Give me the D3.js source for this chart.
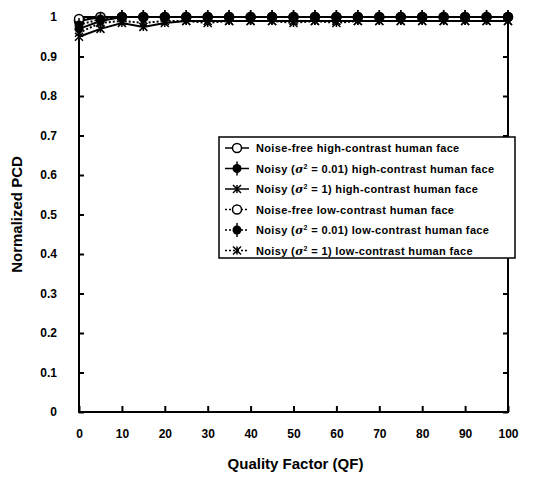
<!DOCTYPE html>
<html lang="en">
<head>
  <meta charset="UTF-8" />
  <title>Normalized PCD vs QF</title>
  <script src="https://cdn.jsdelivr.net/npm/d3@7"></script>
  <style>
    body { margin: 0; background: #fff; }
    text { font-family: "Liberation Sans", Arial, sans-serif; font-weight: bold; fill: #000; }
  </style>
</head>
<body>
<script>
  const width = 552;
  const height = 477;

  // data
  const qf = [0, 5, 10, 15, 20, 25, 30, 35, 40, 45, 50, 55, 60, 65, 70, 75, 80, 85, 90, 95, 100];
  const freeHigh  = [0.99, 1, 1, 1, 1, 1, 1, 1, 1, 1, 1, 1, 1, 1, 1, 1, 1, 1, 1, 1, 1];
  const noisyHigh = [0.97, 0.99, 1, 1, 1, 1, 1, 1, 1, 1, 1, 1, 1, 1, 1, 1, 1, 1, 1, 1, 1];
  const noisy1High = [0.95, 0.97, 0.985, 0.975, 0.985, 0.99, 0.99, 0.99, 0.99, 0.99, 0.99, 0.99, 0.99, 0.99, 0.99, 0.99, 0.99, 0.99, 0.99, 0.99, 0.99];
  const freeLow   = [0.995, 1, 1, 1, 1, 1, 1, 1, 1, 1, 1, 1, 1, 1, 1, 1, 1, 1, 1, 1, 1];
  const noisyLow  = [0.98, 0.995, 1, 1, 1, 1, 1, 1, 1, 1, 1, 1, 1, 1, 1, 1, 1, 1, 1, 1, 1];
  const noisy1Low = [0.96, 0.985, 0.99, 0.985, 0.99, 0.99, 0.985, 0.99, 0.99, 0.99, 0.985, 0.99, 0.985, 0.99, 0.99, 0.99, 0.99, 0.99, 0.99, 0.99, 0.99];

  const xTicks = [0, 10, 20, 30, 40, 50, 60, 70, 80, 90, 100];
  const yTicks = [0, 0.1, 0.2, 0.3, 0.4, 0.5, 0.6, 0.7, 0.8, 0.9, 1];

  const series = [
    { pre: "Noise-free high-contrast human face", values: freeHigh, dash: null, marker: "open" },
    { pre: "Noisy (", sig: "0.01", post: ") high-contrast human face", values: noisyHigh, dash: null, marker: "filled" },
    { pre: "Noisy (", sig: "1", post: ") high-contrast human face", values: noisy1High, dash: null, marker: "star" },
    { pre: "Noise-free low-contrast human face", values: freeLow, dash: "2,2", marker: "open" },
    { pre: "Noisy (", sig: "0.01", post: ") low-contrast human face", values: noisyLow, dash: "2,2", marker: "filled" },
    { pre: "Noisy (", sig: "1", post: ") low-contrast human face", values: noisy1Low, dash: "2,2", marker: "star" }
  ];

  const margin = { left: 79, right: 44, top: 17, bottom: 65 };

  const svg = d3.select("body").append("svg")
    .attr("width", width)
    .attr("height", height);

  const x = d3.scaleLinear().domain([0, 100]).range([margin.left, width - margin.right]);
  const y = d3.scaleLinear().domain([0, 1]).range([height - margin.bottom, margin.top]);

  // frame
  svg.append("rect")
    .attr("x", x(0)).attr("y", y(1))
    .attr("width", x(100) - x(0)).attr("height", y(0) - y(1))
    .attr("fill", "none").attr("stroke", "#000").attr("stroke-width", 2);

  // axes with inward ticks
  const xAxis = svg.append("g")
    .attr("transform", `translate(0,${y(0)})`)
    .call(d3.axisBottom(x).tickValues(xTicks).tickSizeInner(-6).tickSizeOuter(0).tickPadding(17).tickFormat(d3.format("d")));
  const yAxis = svg.append("g")
    .attr("transform", `translate(${x(0)},0)`)
    .call(d3.axisLeft(y).tickValues(yTicks).tickSizeInner(-5).tickSizeOuter(0).tickPadding(22).tickFormat(d => d === 0 || d === 1 ? d3.format("d")(d) : d3.format(".1f")(d)));
  const yAxisR = svg.append("g")
    .attr("transform", `translate(${x(100)},0)`)
    .call(d3.axisRight(y).tickValues(yTicks).tickSizeInner(-5).tickSizeOuter(0).tickFormat(""));

  [xAxis, yAxis, yAxisR].forEach(g => {
    g.select(".domain").remove();
    g.selectAll(".tick line").attr("stroke", "#000").attr("stroke-width", 2);
    g.selectAll("text").attr("font-size", 12).attr("font-family", "Liberation Sans, Arial, sans-serif").attr("font-weight", "bold").attr("fill", "#000");
  });

  // axis titles
  svg.append("text")
    .attr("x", (x(0) + x(100)) / 2 + 2).attr("y", 469)
    .attr("text-anchor", "middle").attr("font-size", 15)
    .text("Quality Factor (QF)");
  svg.append("text")
    .attr("transform", `translate(22,${(y(0) + y(1)) / 2}) rotate(-90)`)
    .attr("text-anchor", "middle").attr("font-size", 15)
    .text("Normalized PCD");

  function drawMarker(g, kind, cx, cy) {
    if (kind === "open") {
      g.append("circle").attr("cx", cx).attr("cy", cy).attr("r", 4.5)
        .attr("fill", "#fff").attr("stroke", "#000").attr("stroke-width", 1.5);
    } else if (kind === "filled") {
      g.append("circle").attr("cx", cx).attr("cy", cy).attr("r", 4.5).attr("fill", "#000");
      g.append("line").attr("x1", cx).attr("x2", cx).attr("y1", cy - 7).attr("y2", cy + 7)
        .attr("stroke", "#000").attr("stroke-width", 1.5);
    } else {
      g.append("path")
        .attr("d", `M${cx - 4},${cy - 4}L${cx + 4},${cy + 4}M${cx - 4},${cy + 4}L${cx + 4},${cy - 4}M${cx},${cy - 4}L${cx},${cy + 4}`)
        .attr("stroke", "#000").attr("stroke-width", 1.5);
    }
  }

  const line = d3.line().x((d, i) => x(qf[i])).y(d => y(d));

  series.forEach(s => {
    const g = svg.append("g");
    g.append("path").datum(s.values)
      .attr("d", line)
      .attr("fill", "none").attr("stroke", "#000").attr("stroke-width", 2)
      .attr("stroke-dasharray", s.dash);
    s.values.forEach((v, i) => drawMarker(g, s.marker, x(qf[i]), y(v)));
  });

  // legend
  const lg = svg.append("g").attr("transform", "translate(219,137)");
  lg.append("rect").attr("width", 296).attr("height", 121)
    .attr("fill", "#fff").attr("stroke", "#000").attr("stroke-width", 1.5);
  series.forEach((s, i) => {
    const ly = 11 + i * 20.5;
    const row = lg.append("g");
    row.append("line").attr("x1", 6).attr("x2", 30).attr("y1", ly).attr("y2", ly)
      .attr("stroke", "#000").attr("stroke-width", 1.5).attr("stroke-dasharray", s.dash);
    drawMarker(row, s.marker, 18, ly);
    const t = row.append("text").attr("x", 37).attr("y", ly + 4)
      .attr("font-size", 11).attr("letter-spacing", 0.35);
    t.append("tspan").text(s.pre);
    if (s.sig) {
      t.append("tspan").attr("font-style", "italic").attr("font-family", "DejaVu Serif, serif").text("σ");
      t.append("tspan").attr("font-size", 7).attr("dy", -4).text("2");
      t.append("tspan").attr("dy", 4).text(" = " + s.sig + s.post);
    }
  });
</script>
</body>
</html>
